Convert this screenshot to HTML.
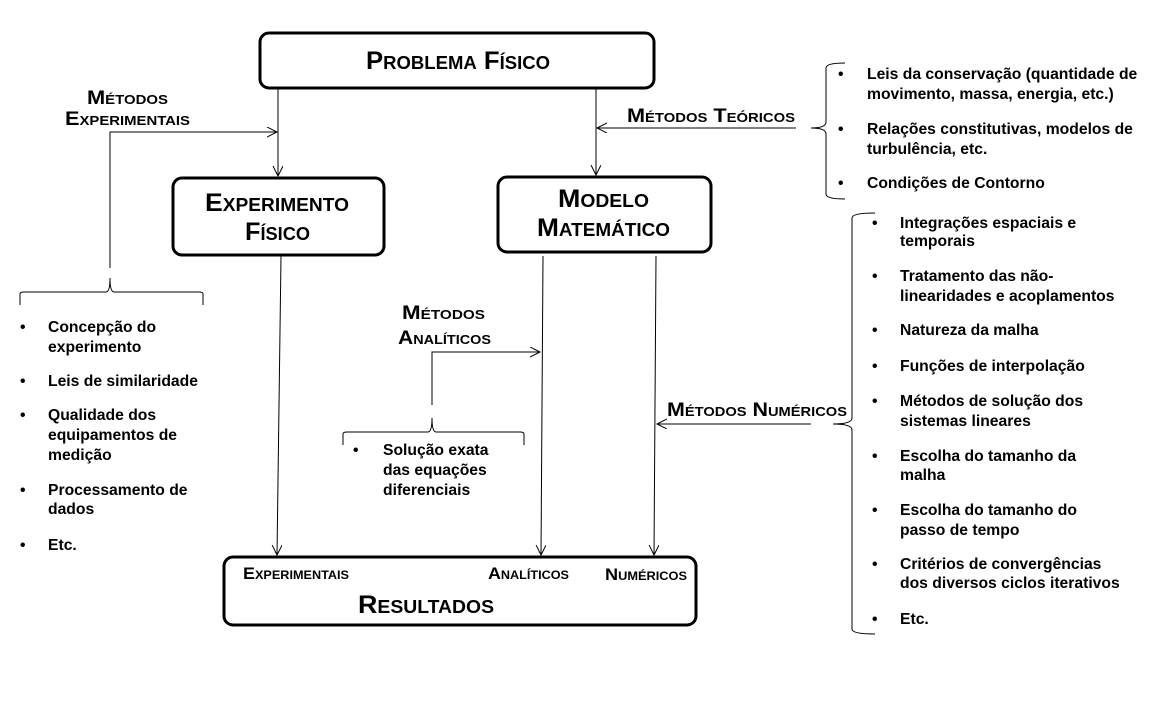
<!DOCTYPE html>
<html><head><meta charset="utf-8"><style>
html,body{margin:0;padding:0;background:#fff;}
svg{display:block;}
.t{font-family:"Liberation Sans Narrow","Liberation Sans",sans-serif;font-weight:bold;fill:#000;font-variant:small-caps;}
.b{font-family:"Liberation Sans",sans-serif;font-weight:bold;font-size:15.7px;fill:#000;}
</style></head><body>
<svg width="1152" height="720" viewBox="0 0 1152 720" xmlns="http://www.w3.org/2000/svg">
<defs><marker id="a" markerWidth="12" markerHeight="12" refX="10" refY="5" orient="auto" markerUnits="userSpaceOnUse"><path d="M0,0 L10,5 L0,10" fill="none" stroke="#000" stroke-width="1"/></marker></defs>
<g fill="none" stroke="#000" stroke-width="3">
<rect x="260" y="33" width="394" height="55" rx="9"/>
<rect x="173" y="178" width="211" height="77" rx="9"/>
<rect x="498" y="177" width="213" height="75" rx="9"/>
<rect x="224" y="557" width="472" height="68" rx="9"/>
</g>
<g fill="none" stroke="#000" stroke-width="1">
<line x1="278" y1="89" x2="278" y2="176" marker-end="url(#a)"/>
<polyline points="110,268 110,132 277,132" marker-end="url(#a)"/>
<line x1="596" y1="89" x2="596" y2="175" marker-end="url(#a)"/>
<line x1="796" y1="128" x2="597" y2="128" marker-end="url(#a)"/>
<line x1="281" y1="256" x2="277" y2="555" marker-end="url(#a)"/>
<line x1="543" y1="256" x2="541" y2="555" marker-end="url(#a)"/>
<line x1="656" y1="256" x2="654" y2="555" marker-end="url(#a)"/>
<polyline points="432,405 432,352 540,352" marker-end="url(#a)"/>
<line x1="811" y1="424" x2="657" y2="424" marker-end="url(#a)"/>
<path d="M20,305 L20,294 Q20,292 24,292 L106,292 Q110,292 110,278 Q110,292 114,292 L199,292 Q203,292 203,294 L203,305"/>
<path d="M343,445 L343,434 Q343,432 347,432 L428,432 Q432,432 432,418 Q432,432 436,432 L520,432 Q524,432 524,434 L524,445"/>
<path d="M845,63 Q826,63 826,68 L826,122 Q826,128 811,128 Q826,128 826,134 L826,194 Q826,199 845,199"/>
<path d="M875,213 Q852,213 852,218 L852,418 Q852,424 833,424 Q852,424 852,430 L852,629 Q852,634 875,634"/>
</g>
<text class="t" x="366" y="69" font-size="25" textLength="184" lengthAdjust="spacingAndGlyphs">Problema Físico</text>
<text class="t" x="205" y="211" font-size="25" textLength="144" lengthAdjust="spacingAndGlyphs">Experimento</text>
<text class="t" x="245" y="240" font-size="25" textLength="65" lengthAdjust="spacingAndGlyphs">Físico</text>
<text class="t" x="558" y="207" font-size="25" textLength="91" lengthAdjust="spacingAndGlyphs">Modelo</text>
<text class="t" x="537" y="236" font-size="25" textLength="133" lengthAdjust="spacingAndGlyphs">Matemático</text>
<text class="t" x="358" y="613" font-size="25" textLength="136" lengthAdjust="spacingAndGlyphs">Resultados</text>
<text class="t" x="87" y="104" font-size="19" textLength="81" lengthAdjust="spacingAndGlyphs">Métodos</text>
<text class="t" x="65" y="125" font-size="19" textLength="125" lengthAdjust="spacingAndGlyphs">Experimentais</text>
<text class="t" x="627" y="122" font-size="19" textLength="168" lengthAdjust="spacingAndGlyphs">Métodos Teóricos</text>
<text class="t" x="402" y="319" font-size="19" textLength="83" lengthAdjust="spacingAndGlyphs">Métodos</text>
<text class="t" x="398" y="344" font-size="19" textLength="93" lengthAdjust="spacingAndGlyphs">Analíticos</text>
<text class="t" x="667" y="416" font-size="19" textLength="180" lengthAdjust="spacingAndGlyphs">Métodos Numéricos</text>
<text class="t" x="243" y="579" font-size="17" textLength="106" lengthAdjust="spacingAndGlyphs">Experimentais</text>
<text class="t" x="488" y="579" font-size="17" textLength="81" lengthAdjust="spacingAndGlyphs">Analíticos</text>
<text class="t" x="605" y="580" font-size="17" textLength="82" lengthAdjust="spacingAndGlyphs">Numéricos</text>
<g class="b">
<text x="20" y="332">•</text><text x="48" y="332">Concepção do</text><text x="48" y="352">experimento</text>
<text x="20" y="386">•</text><text x="48" y="386">Leis de similaridade</text>
<text x="20" y="420">•</text><text x="48" y="420">Qualidade dos</text><text x="48" y="440">equipamentos de</text><text x="48" y="460">medição</text>
<text x="20" y="495">•</text><text x="48" y="495">Processamento de</text><text x="48" y="514">dados</text>
<text x="20" y="550">•</text><text x="48" y="550">Etc.</text>
<text x="353" y="455">•</text><text x="383" y="455">Solução exata</text><text x="383" y="475">das equações</text><text x="383" y="495">diferenciais</text>
<text x="838" y="79">•</text><text x="867" y="79">Leis da conservação (quantidade de</text><text x="867" y="99">movimento, massa, energia, etc.)</text>
<text x="838" y="134">•</text><text x="867" y="134">Relações constitutivas, modelos de</text><text x="867" y="154">turbulência, etc.</text>
<text x="838" y="188">•</text><text x="867" y="188">Condições de Contorno</text>
<text x="872" y="228">•</text><text x="900" y="228">Integrações espaciais e</text><text x="900" y="246">temporais</text>
<text x="872" y="281">•</text><text x="900" y="281">Tratamento das não-</text><text x="900" y="301">linearidades e acoplamentos</text>
<text x="872" y="335">•</text><text x="900" y="335">Natureza da malha</text>
<text x="872" y="371">•</text><text x="900" y="371">Funções de interpolação</text>
<text x="872" y="406">•</text><text x="900" y="406">Métodos de solução dos</text><text x="900" y="426">sistemas lineares</text>
<text x="872" y="461">•</text><text x="900" y="461">Escolha do tamanho da</text><text x="900" y="480">malha</text>
<text x="872" y="515">•</text><text x="900" y="515">Escolha do tamanho do</text><text x="900" y="535">passo de tempo</text>
<text x="872" y="569">•</text><text x="900" y="569">Critérios de convergências</text><text x="900" y="588">dos diversos ciclos iterativos</text>
<text x="872" y="624">•</text><text x="900" y="624">Etc.</text>
</g>
</svg>
</body></html>
